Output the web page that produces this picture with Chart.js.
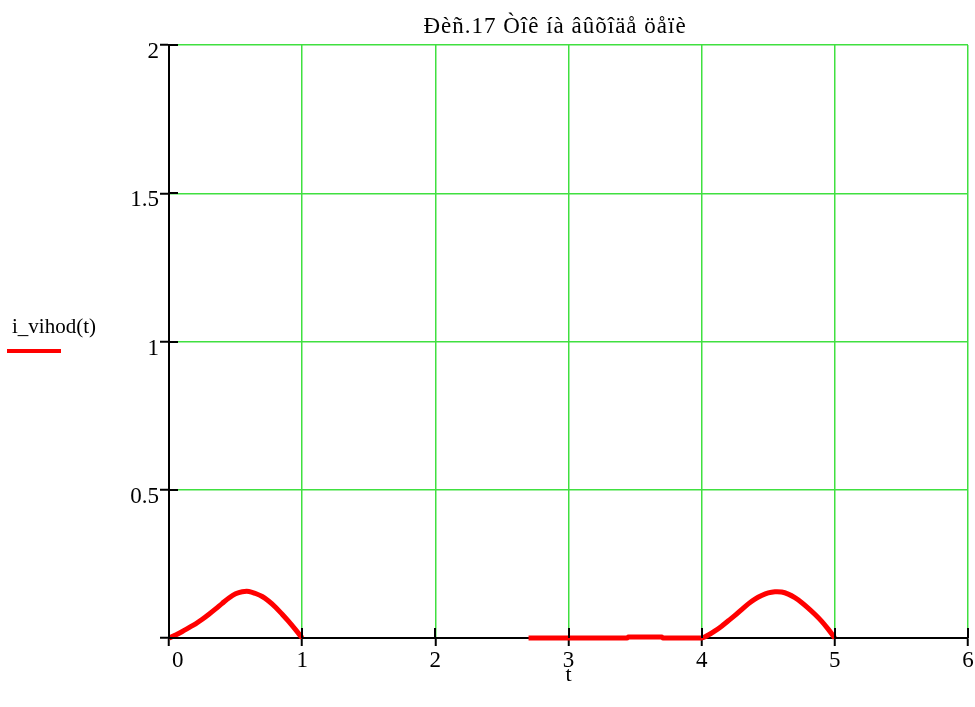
<!DOCTYPE html>
<html>
<head>
<meta charset="utf-8">
<script src="https://cdn.jsdelivr.net/npm/chart.js@4/dist/chart.umd.min.js"></script>
<style>
    html, body { margin: 0; padding: 0; background: #ffffff; }
    #wrap { width: 975px; height: 707px; position: relative; }
</style>
</head>
<body>
<div id="wrap"><canvas id="chart"></canvas></div>
<script>
// values
const tValues = [
    0, 0.05, 0.1, 0.15, 0.2, 0.25, 0.3, 0.35, 0.4, 0.45, 0.5,
    0.55, 0.6, 0.65, 0.7, 0.75, 0.8, 0.85, 0.9, 0.95, 1,
    1.5,
    2.7, 3.44, 3.45, 3.7, 3.71, 4,
    4.05, 4.1, 4.15, 4.2, 4.25, 4.3, 4.35, 4.4, 4.45, 4.5,
    4.55, 4.6, 4.65, 4.7, 4.75, 4.8, 4.85, 4.9, 4.95, 5
];
const iValues = [
    0, 0.010, 0.022, 0.035, 0.048, 0.063, 0.080, 0.098, 0.117, 0.135, 0.149,
    0.156, 0.157, 0.150, 0.140, 0.124, 0.104, 0.080, 0.055, 0.028, 0,
    null,
    0, 0, 0.003, 0.003, 0, 0,
    0.010, 0.024, 0.040, 0.058, 0.076, 0.096, 0.115, 0.131, 0.143, 0.152,
    0.156, 0.155, 0.148, 0.136, 0.120, 0.101, 0.080, 0.057, 0.030, 0
];
const xTicks = [0, 1, 2, 3, 4, 5, 6];
const yTicks = [0, 0.5, 1, 1.5, 2];

const titleText = "Đèñ.17 Òîê íà âûõîäå öåïè";
const seriesName = "i_vihod(t)";
const FONT = "'Liberation Serif', 'Times New Roman', serif";
const GRID = "#40e040";

const points = tValues.map((t, k) => ({ x: t, y: iValues[k] }));

// title, ticks that cross the axes, legend on the left
const mathcadBits = {
    id: "mathcadBits",
    afterDraw(chart) {
        const ctx = chart.ctx;
        const xs = chart.scales.x;
        const ys = chart.scales.y;
        const area = chart.chartArea;
        ctx.save();
        ctx.strokeStyle = "#000000";
        ctx.lineWidth = 2;
        xTicks.forEach((v) => {
            const px = Math.round(xs.getPixelForValue(v));
            ctx.beginPath();
            ctx.moveTo(px, area.bottom - 10);
            ctx.lineTo(px, area.bottom);
            ctx.stroke();
        });
        yTicks.forEach((v) => {
            const py = Math.round(ys.getPixelForValue(v));
            ctx.beginPath();
            ctx.moveTo(area.left, py);
            ctx.lineTo(area.left + 9, py);
            ctx.stroke();
        });
        ctx.fillStyle = "#000000";
        ctx.textBaseline = "middle";
        // title
        ctx.font = "23px " + FONT;
        ctx.letterSpacing = "1px";
        ctx.textAlign = "center";
        ctx.fillText(titleText, 555, 27);
        ctx.letterSpacing = "0px";
        // legend
        ctx.font = "21px " + FONT;
        ctx.textAlign = "left";
        ctx.fillText(seriesName, 12, 327);
        ctx.strokeStyle = "#ff0000";
        ctx.lineWidth = 4;
        ctx.beginPath();
        ctx.moveTo(7, 351);
        ctx.lineTo(61, 351);
        ctx.stroke();
        ctx.restore();
    },
};

document.addEventListener("DOMContentLoaded", function () {
    const canvas = document.getElementById("chart");

    const data = {
        datasets: [
            {
                label: seriesName,
                data: points,
                borderColor: "#ff0000",
                backgroundColor: "#ff0000",
                borderWidth: 5,
                pointRadius: 0,
                tension: 0.3,
                spanGaps: false,
                clip: false,
            },
        ],
    };

    const config = {
        type: "line",
        data: data,
        options: {
            responsive: true,
            maintainAspectRatio: false,
            animation: false,
            layout: {
                padding: { left: 129, right: 7, top: 45, bottom: 0 },
            },
            plugins: {
                legend: { display: false },
                tooltip: { enabled: false },
                title: { display: false },
            },
            scales: {
                x: {
                    type: "linear",
                    min: 0,
                    max: 6,
                    afterBuildTicks: (scale) => {
                        scale.ticks = xTicks.map((v) => ({ value: v }));
                    },
                    afterFit: (scale) => {
                        scale.height = 69;
                        scale.paddingLeft = 0;
                        scale.paddingRight = 0;
                    },
                    grid: {
                        color: GRID,
                        lineWidth: 1.5,
                        tickColor: "#000000",
                        tickLength: 8,
                        tickWidth: 2,
                    },
                    border: { color: "#000000", width: 2 },
                    ticks: {
                        color: "#000000",
                        font: { family: FONT, size: 23 },
                        padding: 1,
                        maxRotation: 0,
                        // the first label sits right of the axis, as in the original
                        callback: (v) => (v === 0 ? "   0" : String(v)),
                    },
                    title: {
                        display: true,
                        text: "t",
                        color: "#000000",
                        font: { family: FONT, size: 22 },
                        padding: { top: 0, bottom: 19 },
                    },
                },
                y: {
                    type: "linear",
                    min: 0,
                    max: 2,
                    afterBuildTicks: (scale) => {
                        scale.ticks = yTicks.map((v) => ({ value: v }));
                    },
                    afterFit: (scale) => {
                        scale.width = 40;
                    },
                    grid: {
                        color: GRID,
                        lineWidth: 1.5,
                        tickColor: "#000000",
                        tickLength: 9,
                        tickWidth: 2,
                    },
                    border: { color: "#000000", width: 2 },
                    ticks: {
                        color: "#000000",
                        font: { family: FONT, size: 23 },
                        padding: 1,
                        labelOffset: 7,
                        callback: (v) => (v === 0 ? "" : String(v)),
                    },
                },
            },
        },
        plugins: [mathcadBits],
    };

    new Chart(canvas, config);
});
</script>
</body>
</html>
